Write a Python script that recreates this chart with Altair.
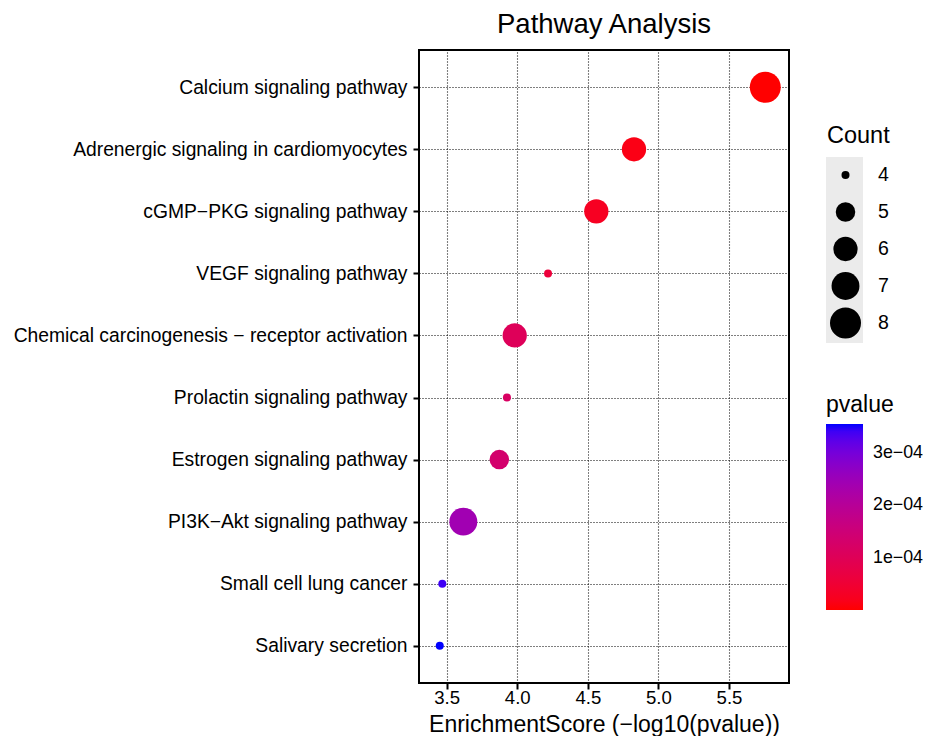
import altair as alt
import pandas as pd

pathways = [
    "Calcium signaling pathway",
    "Adrenergic signaling in cardiomyocytes",
    "cGMP\u2212PKG signaling pathway",
    "VEGF signaling pathway",
    "Chemical carcinogenesis \u2212 receptor activation",
    "Prolactin signaling pathway",
    "Estrogen signaling pathway",
    "PI3K\u2212Akt signaling pathway",
    "Small cell lung cancer",
    "Salivary secretion",
]
scores = [5.757, 4.827, 4.560, 4.218, 3.982, 3.927, 3.873, 3.618, 3.469, 3.451]
counts = [8, 6, 6, 4, 6, 4, 5, 7, 4, 4]
x_ticks = [3.5, 4.0, 4.5, 5.0, 5.5]
count_levels = [4, 5, 6, 7, 8]
count_areas = [64, 380, 589, 780, 961]
p_ticks = [1e-4, 2e-4, 3e-4]

pvalues = [10 ** (-s) for s in scores]
df = pd.DataFrame({"Pathway": pathways, "Score": scores, "Count": counts, "pvalue": pvalues})

FONT = "Liberation Sans"

bg = alt.Chart(pd.DataFrame({"k": [0]})).mark_rect(color="#EBEBEB").encode(
    x=alt.value(407), x2=alt.value(444), y=alt.value(107), y2=alt.value(293)
)

points = alt.Chart(df).mark_circle(opacity=1).encode(
    x=alt.X(
        "Score:Q",
        scale=alt.Scale(domain=[3.304, 5.925], nice=False, zero=False),
        axis=alt.Axis(
            values=x_ticks, format=".1f", title="EnrichmentScore (\u2212log10(pvalue))",
            titleFontSize=23, titleFont=FONT, titleFontWeight="normal", titleColor="black",
            titleBaseline="alphabetic", titleY=48, labelPadding=-1, labelFontSize=18.6,
        ),
    ),
    y=alt.Y(
        "Pathway:N",
        sort=pathways,
        scale=alt.Scale(type="point", padding=0.6),
        axis=alt.Axis(title=None, labelLimit=600, labelPadding=6, labelFontSize=19.3),
    ),
    size=alt.Size(
        "Count:Q",
        scale=alt.Scale(domain=count_levels, range=count_areas, zero=False, nice=False),
        legend=alt.Legend(
            title="Count", orient="none", legendX=408, legendY=74, values=count_levels,
            symbolType="circle", symbolFillColor="black", symbolStrokeWidth=0,
            clipHeight=37, rowPadding=0, titlePadding=9, symbolOffset=3, labelOffset=17,
            labelFontSize=19.5, titleFontSize=23.5, labelFont=FONT, titleFont=FONT,
            titleFontWeight="normal", labelColor="black", titleColor="black", padding=0,
        ),
    ),
    color=alt.Color(
        "pvalue:Q",
        scale=alt.Scale(domain=[min(pvalues), max(pvalues)], range=["red", "blue"],
                        interpolate="lab", nice=False, zero=False),
        legend=alt.Legend(
            title="pvalue", orient="none", legendX=407, legendY=344, values=p_ticks,
            gradientLength=186, gradientThickness=37, direction="vertical",
            labelExpr="replace(format(datum.value, '.0e'), 'e-', 'e\u22120')",
            labelFontSize=17.8, titleFontSize=23, labelFont=FONT, titleFont=FONT,
            titleFontWeight="normal", labelColor="black", titleColor="black",
            titlePadding=7, labelOffset=10, padding=0, gradientStrokeWidth=0,
        ),
    ),
)

chart = alt.layer(bg, points).properties(
    width=370,
    height=633,
    autosize=alt.AutoSizeParams(type="none"),
    padding={"left": 411, "top": 42, "right": 134, "bottom": 53},
    title=alt.TitleParams(
        "Pathway Analysis", fontSize=27.5, font=FONT, fontWeight="normal", color="black",
        anchor="middle", frame="group", baseline="alphabetic", offset=-10,
    ),
).configure_view(
    stroke="black", strokeWidth=2
).configure_axis(
    grid=True, gridColor="black", gridDash=[1, 2], gridWidth=1.1, domain=False,
    tickColor="black", tickWidth=2, tickSize=6, labelFont=FONT,
    labelColor="black",
)

chart.save("out.html", embed_options={"renderer": "svg", "actions": False})
